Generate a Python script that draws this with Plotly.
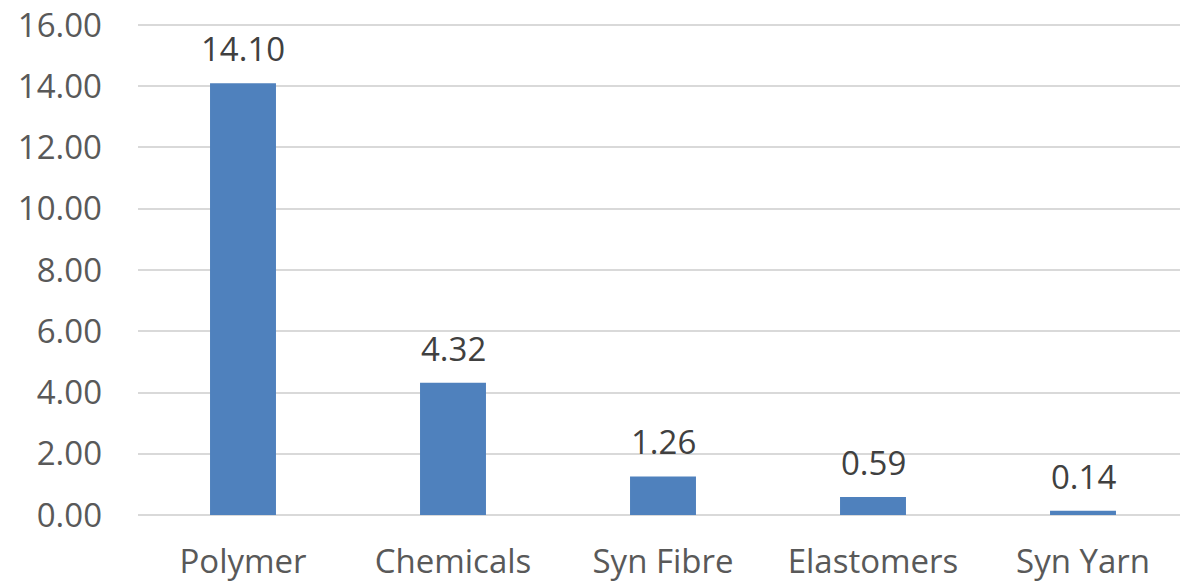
import plotly.graph_objects as go

categories = ["Polymer", "Chemicals", "Syn Fibre", "Elastomers", "Syn Yarn"]
values = [14.10, 4.32, 1.26, 0.59, 0.14]
tick_vals = [0, 2, 4, 6, 8, 10, 12, 14, 16]

FONT = "Open Sans"
FS = 33

fig = go.Figure(
    go.Bar(
        x=categories,
        y=values,
        marker=dict(color="#4F81BD", line=dict(width=0)),
        width=0.314,
        hoverinfo="skip",
    )
)

for c, v in zip(categories, values):
    fig.add_annotation(
        x=c, y=v, text=f"{v:.2f}", showarrow=False,
        yanchor="bottom", yshift=10,
        font=dict(family=FONT, size=FS, color="#404040"),
    )

# page body has an 8px default margin, so the figure is sized to fit inside it
fig.update_layout(
    width=1180, height=574,
    margin=dict(l=130, r=0, t=13, b=67),
    paper_bgcolor="white", plot_bgcolor="white",
    showlegend=False,
    font=dict(family=FONT, size=FS, color="#595959"),
)
fig.update_xaxes(
    automargin=False,
    showgrid=False, showline=False, zeroline=False,
    ticks="", ticklabelstandoff=24, ticklabeloverflow="allow",
    tickfont=dict(family=FONT, size=FS, color="#595959"),
)
fig.update_yaxes(
    automargin=False,
    range=[0, 16.13], tickvals=tick_vals, tickformat=".2f",
    showgrid=True, gridcolor="#D9D9D9", gridwidth=1.5,
    zeroline=True, zerolinecolor="#D9D9D9", zerolinewidth=1.5,
    showline=False, ticks="", ticklabelstandoff=35, ticklabeloverflow="allow",
    tickfont=dict(family=FONT, size=FS, color="#595959"),
)

fig.write_html("out.html")
